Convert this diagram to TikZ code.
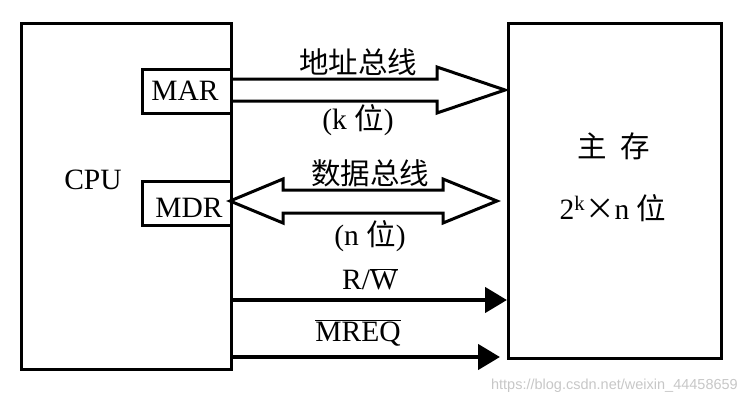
\documentclass[tikz,border=0pt]{standalone}
\usepackage{fontspec}
\setmainfont{Liberation Serif}
\newfontfamily\cjk{Noto Sans CJK SC}
\newfontfamily\wmfont{Liberation Sans}
\usetikzlibrary{arrows.meta}
\tikzset{
  box/.style={draw, line width=3pt, inner sep=0pt, anchor=north west},
  bus/.style={draw, line width=3pt, line join=miter},
  sig/.style={line width=4.5pt, -{Triangle[length=22pt, width=25pt]}},
  lbl/.style={font=\fontsize{29.5}{34}\selectfont, inner sep=0pt}
}

\begin{document}
\begin{tikzpicture}[x=1pt, y=-1pt]
  \useasboundingbox (0,0) rectangle (748,405);

  % CPU side
  \node[box, minimum width=210pt, minimum height=346pt] (cpu) at (20,22) {};
  \node[lbl] (cputext) at (93,180) {CPU};
  \node[box, minimum width=89pt, minimum height=44pt] (mar) at (141,68) {};
  \node[lbl] (martext) at (185,91) {MAR};
  \node[box, minimum width=89pt, minimum height=44pt] (mdr) at (141,180) {};
  \node[lbl] (mdrtext) at (189,208) {MDR};

  % memory side
  \node[box, minimum width=213pt, minimum height=335pt] (mem) at (507,22) {};
  \node[lbl] (memtext) at (614,146) {\cjk 主\ \ 存};
  \node[lbl] (memsize) at (613,208) {2\textsuperscript{k}{\cjk ×}n \cjk 位};

  % address bus
  \draw[bus] (230,79) -- (437,79) -- (437,67) -- (505,90) -- (437,113) -- (437,101) -- (230,101);
  \node[lbl] (addr) at (358,62) {\cjk 地址总线};
  \node[lbl] (addrw) at (358,120) {(k {\cjk 位})};

  % data bus
  \draw[bus] (283,190) -- (443,190) -- (443,179) -- (497,201) -- (443,223) -- (443,213)
    -- (283,213) -- (283,223) -- (230,201) -- (283,179) -- cycle;
  \node[lbl] (data) at (370,173) {\cjk 数据总线};
  \node[lbl] (dataw) at (370,236) {(n {\cjk 位})};

  % control lines
  \coordinate (rwend) at (507,300);
  \coordinate (mqend) at (500,357);
  \draw[sig] (cpu.east |- rwend) -- (rwend);
  \node[lbl] (rw) at (370,279) {R/$\overline{\hbox{W}}$};
  \draw[sig] (cpu.east |- mqend) -- (mqend);
  \node[lbl] (mreq) at (358,333) {$\overline{\hbox{MREQ}}$};

  \node[font=\wmfont\fontsize{14.5}{16}\selectfont, text=black!22, anchor=east, inner sep=0pt] (wm) at (738,386) {https://blog.csdn.net/weixin\_44458659};
\end{tikzpicture}
\end{document}
